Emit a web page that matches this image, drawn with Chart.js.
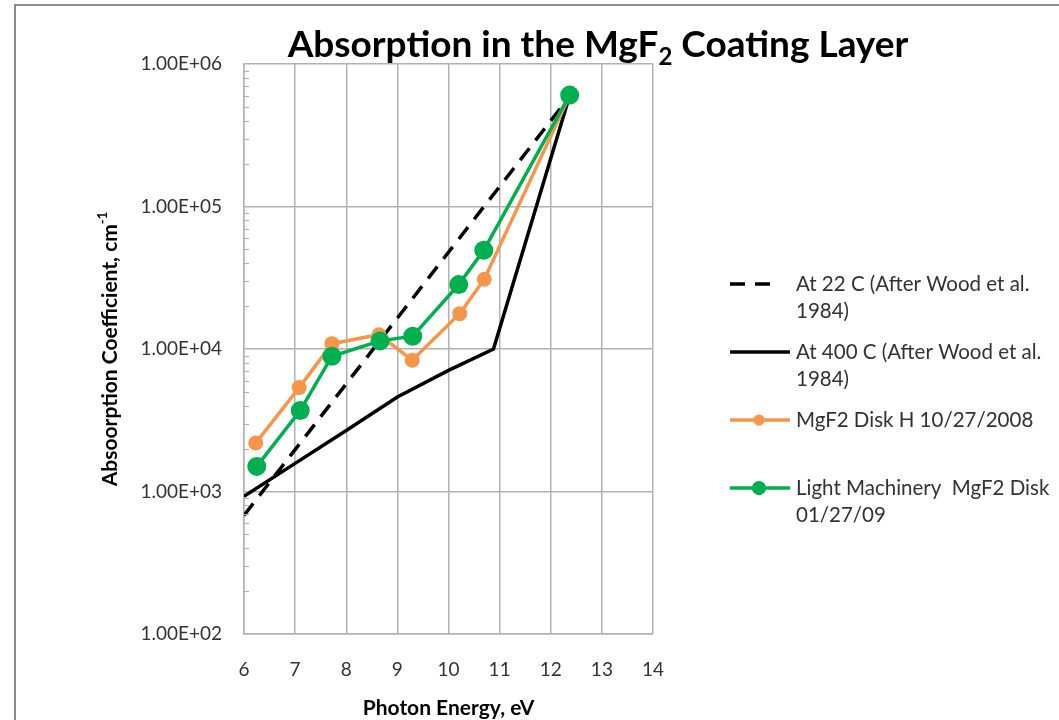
<!DOCTYPE html>
<html>
<head>
<meta charset="utf-8">
<title>Absorption in the MgF2 Coating Layer</title>
<script src="https://cdn.jsdelivr.net/npm/chart.js@4.4.1/dist/chart.umd.min.js"></script>
<style>
  html, body { margin: 0; padding: 0; background: #fff; }
  #wrap { position: relative; width: 1059px; height: 720px; }
</style>
</head>
<body>
<div id="wrap"><canvas id="absChart" width="1059" height="720"></canvas></div>
<script>
/* ------------------------------------------------------------
   Data
   ------------------------------------------------------------ */
const energyDisk  = [6.23, 7.08, 7.72, 8.64, 9.29, 10.22, 10.70, 12.37];
const absorbDisk  = [2190, 5360, 10900, 12600, 8340, 17700, 30900, 600000];

const energyLM    = [6.25, 7.10, 7.72, 8.66, 9.30, 10.20, 10.69, 12.37];
const absorbLM    = [1500, 3700, 8900, 11400, 12300, 28300, 49300, 605000];

const energy22C   = [6.0, 12.3];
const absorb22C   = [680, 550000];

const energy400C  = [6.0, 7.0, 8.0, 9.0, 10.0, 10.88, 12.37];
const absorb400C  = [925, 1575, 2680, 4600, 7080, 10000, 600000];

const xTickValues = [6, 7, 8, 9, 10, 11, 12, 13, 14];
const yTickLabels = { 2: '1.00E+02', 3: '1.00E+03', 4: '1.00E+04', 5: '1.00E+05', 6: '1.00E+06' };

const seriesNames = [
  ['At 22 C (After Wood et al.', '1984)'],
  ['At 400 C (After Wood et al.', '1984)'],
  ['MgF2 Disk H 10/27/2008'],
  ['Light Machinery  MgF2 Disk', '01/27/09'],
];

/* ------------------------------------------------------------
   Helpers
   ------------------------------------------------------------ */
const pts = (xs, ys) => xs.map((x, i) => ({ x, y: ys[i] }));
const isDecade = v => Math.abs(Math.log10(v) - Math.round(Math.log10(v))) < 1e-9;

const GRID = '#b2b2b2';
const TXT  = '#333';
const FONT = 'Lato, "Open Sans", sans-serif';

/* ------------------------------------------------------------
   Plugins: frame, minor ticks, titles, legend
   ------------------------------------------------------------ */
const framePlugin = {
  id: 'frame',
  beforeDraw(chart) {
    const c = chart.ctx;
    c.save();
    c.fillStyle = '#fff';
    c.fillRect(0, 0, chart.width, chart.height);
    c.strokeStyle = '#8c8c8c';
    c.lineWidth = 2;
    c.beginPath();
    c.moveTo(15, chart.height);
    c.lineTo(15, 5);
    c.lineTo(chart.width, 5);
    c.stroke();
    c.restore();
  },
};

const minorTicksPlugin = {
  id: 'minorTicks',
  afterDraw(chart) {
    const y = chart.scales.y;
    const c = chart.ctx;
    const left = chart.chartArea.left;
    c.save();
    c.strokeStyle = GRID;
    c.lineWidth = 1.2;
    for (let e = Math.round(Math.log10(y.min)); e < Math.round(Math.log10(y.max)); e++) {
      for (let m = 2; m <= 9; m++) {
        const py = Math.round(y.getPixelForValue(m * Math.pow(10, e))) + 0.5;
        c.beginPath();
        c.moveTo(left, py);
        c.lineTo(left + 5, py);
        c.stroke();
      }
    }
    c.restore();
  },
};

const textPlugin = {
  id: 'texts',
  afterDraw(chart) {
    const c = chart.ctx;
    const area = chart.chartArea;
    c.save();
    c.fillStyle = '#000';
    c.textBaseline = 'alphabetic';

    // chart title with subscript
    const big = 'bold 37px ' + FONT, small = 'bold 24px ' + FONT;
    const t1 = 'Absorption in the MgF', t2 = '2', t3 = ' Coating Layer';
    c.font = big;   const w1 = c.measureText(t1).width, w3 = c.measureText(t3).width;
    c.font = small; const w2 = c.measureText(t2).width;
    let x = 598 - (w1 + w2 + w3) / 2;
    const base = 57;
    c.font = big;   c.textAlign = 'left'; c.fillText(t1, x, base); x += w1;
    c.font = small; c.fillText(t2, x, base + 8); x += w2;
    c.font = big;   c.fillText(t3, x, base);

    // y axis title with superscript
    c.save();
    c.translate(110, (area.top + area.bottom) / 2);
    c.rotate(-Math.PI / 2);
    const yf = 'bold 21px ' + FONT, ys = 'bold 13px ' + FONT;
    const a1 = 'Absoorption Coefficient, cm', a2 = '-1';
    c.font = yf; const aw1 = c.measureText(a1).width;
    c.font = ys; const aw2 = c.measureText(a2).width;
    let ax = -(aw1 + aw2) / 2;
    c.textBaseline = 'middle';
    c.font = yf; c.fillText(a1, ax, 0); ax += aw1;
    c.font = ys; c.fillText(a2, ax, -7);
    c.restore();

    // x axis title
    c.font = 'bold 21px ' + FONT;
    c.textAlign = 'center';
    c.textBaseline = 'middle';
    c.fillText('Photon Energy, eV', (area.left + area.right) / 2, 708);
    c.restore();
  },
};

const legendPlugin = {
  id: 'sideLegend',
  afterDraw(chart) {
    const c = chart.ctx;
    const rows = [284, 352, 420, 488];
    const lineH = 27;
    c.save();
    c.font = '20.5px ' + FONT;
    c.fillStyle = TXT;
    c.textAlign = 'left';
    c.textBaseline = 'middle';
    chart.data.datasets.forEach((ds, i) => {
      const y = rows[i];
      c.save();
      c.strokeStyle = ds.borderColor;
      c.lineWidth = ds.borderWidth;
      c.setLineDash(ds.borderDash || []);
      c.beginPath();
      c.moveTo(730, y);
      c.lineTo(ds.borderDash ? 778 : 790, y);
      c.stroke();
      if (ds.pointRadius > 0) {
        c.fillStyle = ds.pointBackgroundColor;
        c.beginPath();
        c.arc(759, y, ds.pointRadius * 0.75, 0, Math.PI * 2);
        c.fill();
      }
      c.restore();
      seriesNames[i].forEach((line, k) => c.fillText(line, 796, y + k * lineH));
    });
    c.restore();
  },
};

/* ------------------------------------------------------------
   Chart
   ------------------------------------------------------------ */
new Chart(document.getElementById('absChart'), {
  type: 'line',
  data: {
    datasets: [
      {
        label: seriesNames[0].join(' '),
        data: pts(energy22C, absorb22C),
        borderColor: '#000',
        borderWidth: 3.5,
        borderDash: [15, 10],
        pointRadius: 0,
        order: 4,
      },
      {
        label: seriesNames[1].join(' '),
        data: pts(energy400C, absorb400C),
        borderColor: '#000',
        borderWidth: 3.5,
        pointRadius: 0,
        order: 3,
      },
      {
        label: seriesNames[2].join(' '),
        data: pts(energyDisk, absorbDisk),
        borderColor: '#f7964a',
        backgroundColor: '#f7964a',
        pointBackgroundColor: '#f7964a',
        pointBorderWidth: 0,
        borderWidth: 3.5,
        pointRadius: 7.5,
        order: 2,
      },
      {
        label: seriesNames[3].join(' '),
        data: pts(energyLM, absorbLM),
        borderColor: '#00b050',
        backgroundColor: '#00b050',
        pointBackgroundColor: '#00b050',
        pointBorderWidth: 0,
        borderWidth: 3.5,
        pointRadius: 9.5,
        order: 1,
      },
    ],
  },
  options: {
    responsive: false,
    animation: false,
    layout: { padding: { top: 64, right: 406, left: 0, bottom: 0 } },
    plugins: {
      legend: { display: false },
      title: { display: false },
      tooltip: { enabled: false },
    },
    scales: {
      x: {
        type: 'linear',
        min: 6, max: 14,
        afterBuildTicks: s => { s.ticks = xTickValues.map(v => ({ value: v })); },
        afterFit: s => { s.height = 86; },
        ticks: { color: TXT, font: { family: FONT, size: 19 }, padding: 24 },
        grid: { color: GRID, lineWidth: 1.5, drawTicks: false },
        border: { color: GRID, width: 1.5 },
      },
      y: {
        type: 'logarithmic',
        min: 100, max: 1000000,
        afterFit: s => { s.width = 244; },
        ticks: {
          autoSkip: false,
          color: TXT,
          font: { family: FONT, size: 19 },
          padding: 22,
          callback: v => isDecade(v) ? yTickLabels[Math.round(Math.log10(v))] : null,
        },
        grid: {
          drawTicks: false,
          lineWidth: 1.5,
          color: c => (c.tick && isDecade(c.tick.value)) ? GRID : 'rgba(0,0,0,0)',
        },
        border: { color: GRID, width: 1.5 },
      },
    },
  },
  plugins: [framePlugin, minorTicksPlugin, textPlugin, legendPlugin],
});
</script>
</body>
</html>
